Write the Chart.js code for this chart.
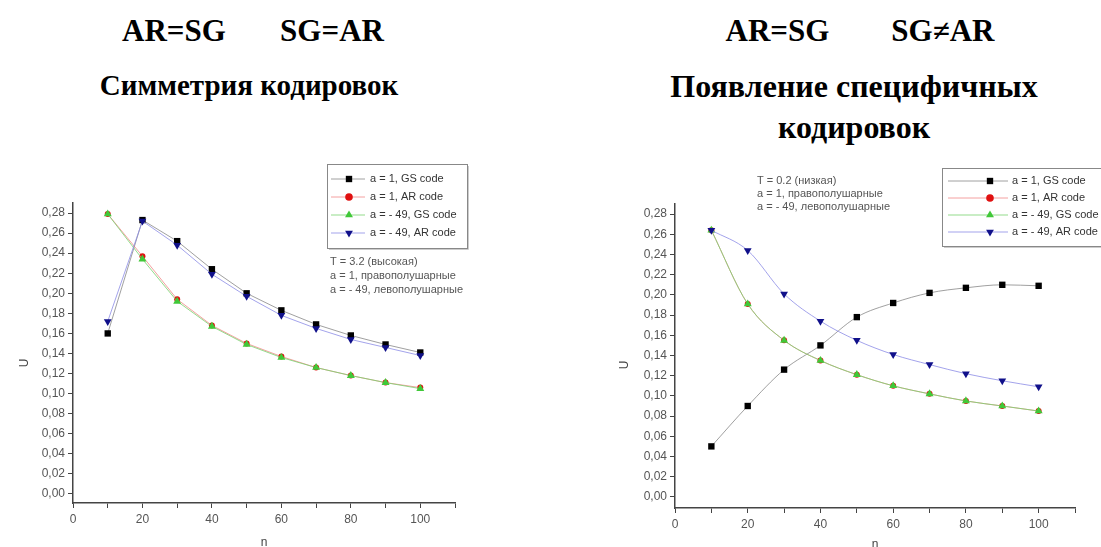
<!DOCTYPE html>
<html>
<head>
<meta charset="utf-8">
<script src="https://cdn.jsdelivr.net/npm/chart.js@4.4.1/dist/chart.umd.min.js"></script>
<style>
  body { margin: 0; width: 1101px; height: 547px; background: #fff; position: relative; overflow: hidden; }
  .ttl { position: absolute; font-family: "Liberation Serif", "Times New Roman", serif; font-weight: bold;
         color: #000; text-align: center; white-space: pre; line-height: 1; }
  canvas { position: absolute; top: 150px; }
</style>
</head>
<body>
<div class="ttl" style="left:0; width:506px; top:15px; font-size:31px;">AR=SG       SG=AR</div>
<div class="ttl" style="left:0; width:498px; top:71px; font-size:29px;">Симметрия кодировок</div>
<div class="ttl" style="left:600px; width:520px; top:15px; font-size:31px;">AR=SG        SG≠AR</div>
<div class="ttl" style="left:594px; width:520px; top:70px; font-size:32px;">Появление специфичных</div>
<div class="ttl" style="left:594px; width:520px; top:111px; font-size:32px;">кодировок</div>

<canvas id="chart_left" width="560" height="397" style="left:0;"></canvas>
<canvas id="chart_right" width="541" height="397" style="left:560px;"></canvas>

<script>
// ---------------- datos ----------------
const n_vals = [10, 20, 30, 40, 50, 60, 70, 80, 90, 100];

// T = 3.2 (высокая)
const left_gs_a1   = [0.160, 0.273, 0.252, 0.224, 0.200, 0.183, 0.169, 0.158, 0.149, 0.141];
const left_ar_a1   = [0.279, 0.237, 0.194, 0.168, 0.150, 0.137, 0.126, 0.118, 0.111, 0.106];
const left_gs_a49  = [0.279, 0.234, 0.192, 0.167, 0.149, 0.136, 0.126, 0.118, 0.111, 0.105];
const left_ar_a49  = [0.172, 0.272, 0.248, 0.219, 0.197, 0.178, 0.165, 0.154, 0.146, 0.138];

// T = 0.2 (низкая)
const right_gs_a1  = [0.050, 0.090, 0.126, 0.150, 0.178, 0.192, 0.202, 0.207, 0.210, 0.209];
const right_ar_a1  = [0.264, 0.191, 0.155, 0.135, 0.121, 0.110, 0.102, 0.095, 0.090, 0.085];
const right_gs_a49 = [0.264, 0.191, 0.155, 0.135, 0.121, 0.110, 0.102, 0.095, 0.090, 0.085];
const right_ar_a49 = [0.264, 0.244, 0.201, 0.174, 0.155, 0.141, 0.131, 0.122, 0.115, 0.109];

const series_names = ["a = 1, GS code", "a = 1, AR code", "a = - 49, GS code", "a = - 49, AR code"];
const left_notes  = ["T = 3.2 (высокая)", "a = 1, правополушарные", "a = - 49, левополушарные"];
const right_notes = ["T = 0.2 (низкая)", "a = 1, правополушарные", "a = - 49, левополушарные"];
const y_ticks = [0, 0.02, 0.04, 0.06, 0.08, 0.10, 0.12, 0.14, 0.16, 0.18, 0.20, 0.22, 0.24, 0.26, 0.28];
const x_ticks = [0, 20, 40, 60, 80, 100];

// estilos de series
const styles = [
  { line: "rgba(120,120,120,0.7)", point: "#000000", pointStyle: "rect",     radius: 4.5, rot: 0,   order: 3 },
  { line: "rgba(240,120,120,0.7)", point: "#e01010", pointStyle: "circle",   radius: 3.0, rot: 0,   order: 2 },
  { line: "rgba(120,210,110,0.8)", point: "#40c838", pointStyle: "triangle", radius: 4.6, rot: 0,   order: 1 },
  { line: "rgba(140,140,230,0.8)", point: "#10108a", pointStyle: "triangle", radius: 4.5, rot: 180, order: 0 },
];

function makeSets(arrs, smooth) {
  return arrs.map((arr, i) => ({
    label: series_names[i],
    data: arr.map((v, k) => ({ x: n_vals[k], y: v })),
    borderColor: styles[i].line,
    borderWidth: 1,
    backgroundColor: styles[i].point,
    pointBackgroundColor: styles[i].point,
    pointBorderColor: styles[i].point,
    pointBorderWidth: 0,
    pointStyle: styles[i].pointStyle,
    pointRadius: styles[i].radius,
    pointRotation: styles[i].rot,
    cubicInterpolationMode: smooth ? "monotone" : "default",
    tension: 0,
    order: styles[i].order,
  }));
}

// ---------------- plugin: leyenda, notas y títulos de ejes ----------------
const extras = {
  id: "extras",
  afterDraw(chart, args, o) {
    const ctx = chart.ctx;
    const ca = chart.chartArea;
    ctx.save();
    ctx.fillStyle = "#444";
    ctx.font = "12px 'Liberation Sans', Arial, sans-serif";
    ctx.textAlign = "center";
    ctx.textBaseline = "middle";
    // eje x
    ctx.fillText("n", (ca.left + ca.right) / 2, o.nY);
    // eje y
    ctx.save();
    ctx.translate(o.uX, o.uY);
    ctx.rotate(-Math.PI / 2);
    ctx.fillText("U", 0, 0);
    ctx.restore();

    // notas
    ctx.textAlign = "left";
    ctx.fillStyle = "#555";
    ctx.font = "11px 'Liberation Sans', Arial, sans-serif";
    o.notes.forEach((t, i) => ctx.fillText(t, o.noteX, o.noteY + i * o.noteGap));

    // leyenda
    const b = o.box;
    ctx.strokeStyle = "#888";
    ctx.lineWidth = 1;
    ctx.strokeRect(b.x + 0.5, b.y + 0.5, b.w, b.h);
    ctx.strokeStyle = "#ccc";
    ctx.beginPath();
    ctx.moveTo(b.x + 2, b.y + b.h + 1.5);
    ctx.lineTo(b.x + b.w + 1.5, b.y + b.h + 1.5);
    ctx.lineTo(b.x + b.w + 1.5, b.y + 2);
    ctx.stroke();
    ctx.font = "11px 'Liberation Sans', Arial, sans-serif";
    series_names.forEach((name, i) => {
      const y = b.y + b.row0 + i * b.rowGap;
      const s = styles[i];
      ctx.strokeStyle = s.line;
      ctx.lineWidth = 1;
      ctx.beginPath();
      ctx.moveTo(b.x + b.lineFrom, y);
      ctx.lineTo(b.x + b.lineTo, y);
      ctx.stroke();
      ctx.fillStyle = s.point;
      ctx.strokeStyle = s.point;
      Chart.helpers.drawPoint(ctx, { pointStyle: s.pointStyle, radius: Math.max(s.radius, 3.8), rotation: s.rot, borderWidth: 0 },
        b.x + b.mark, y);
      ctx.fillStyle = "#333";
      ctx.fillText(name, b.x + b.text, y);
    });
    ctx.restore();
  }
};

function makeOptions(ymin, yw, xh, pad, extra) {
  return {
    responsive: false,
    animation: false,
    devicePixelRatio: 1,
    layout: { padding: pad },
    plugins: { legend: { display: false }, tooltip: { enabled: false }, extras: extra },
    scales: {
      x: {
        type: "linear", min: 0, max: 110,
        afterFit: s => { s.height = xh; },
        afterBuildTicks: s => { s.ticks = [0,10,20,30,40,50,60,70,80,90,100,110].map(v => ({ value: v })); },
        ticks: {
          color: "#555", font: { size: 12, family: "'Liberation Sans', Arial" }, padding: 4, maxRotation: 0,
          callback: v => (x_ticks.includes(v) ? String(v) : "")
        },
        grid: { drawOnChartArea: false, drawTicks: true, tickLength: 5, tickColor: "#444" },
        border: { display: true, color: "#444", width: 1.5 },
      },
      y: {
        type: "linear", min: ymin, max: 0.29,
        afterFit: s => { s.width = yw; },
        afterBuildTicks: s => {
          const t = [];
          for (let k = 0; k <= 29; k++) t.push({ value: k / 100 });
          s.ticks = t;
        },
        ticks: {
          color: "#555", font: { size: 12, family: "'Liberation Sans', Arial" }, padding: 3,
          callback: v => {
            const hit = y_ticks.find(t => Math.abs(t - v) < 1e-6);
            return hit === undefined ? "" : hit.toFixed(2).replace(".", ",");
          }
        },
        grid: { drawOnChartArea: false, drawTicks: true, tickLength: 5, tickColor: "#444" },
        border: { display: true, color: "#444", width: 1.5 },
      },
    },
  };
}

const ctx_left = document.getElementById("chart_left").getContext("2d");
let chart_left = new Chart(ctx_left, {
  type: "line",
  data: { datasets: makeSets([left_gs_a1, left_ar_a1, left_gs_a49, left_ar_a49], false) },
  options: makeOptions(-0.009, 73, 44, { left: 0, right: 105, top: 53, bottom: 0 }, {
    nY: 393, uX: 25, uY: 213,
    notes: left_notes, noteX: 330, noteY: 112, noteGap: 14,
    box: { x: 327, y: 14, w: 140, h: 84, row0: 15, rowGap: 18, lineFrom: 4, lineTo: 38, mark: 22, text: 43 },
  }),
  plugins: [extras],
});

const ctx_right = document.getElementById("chart_right").getContext("2d");
let chart_right = new Chart(ctx_right, {
  type: "line",
  data: { datasets: makeSets([right_gs_a1, right_ar_a1, right_gs_a49, right_ar_a49], true) },
  options: makeOptions(-0.011, 115, 39, { left: 0, right: 26, top: 54, bottom: 0 }, {
    nY: 395, uX: 65, uY: 215,
    notes: right_notes, noteX: 197, noteY: 31, noteGap: 13,
    box: { x: 382, y: 18, w: 170, h: 78, row0: 13, rowGap: 17, lineFrom: 6, lineTo: 66, mark: 48, text: 70 },
  }),
  plugins: [extras],
});
</script>
</body>
</html>
